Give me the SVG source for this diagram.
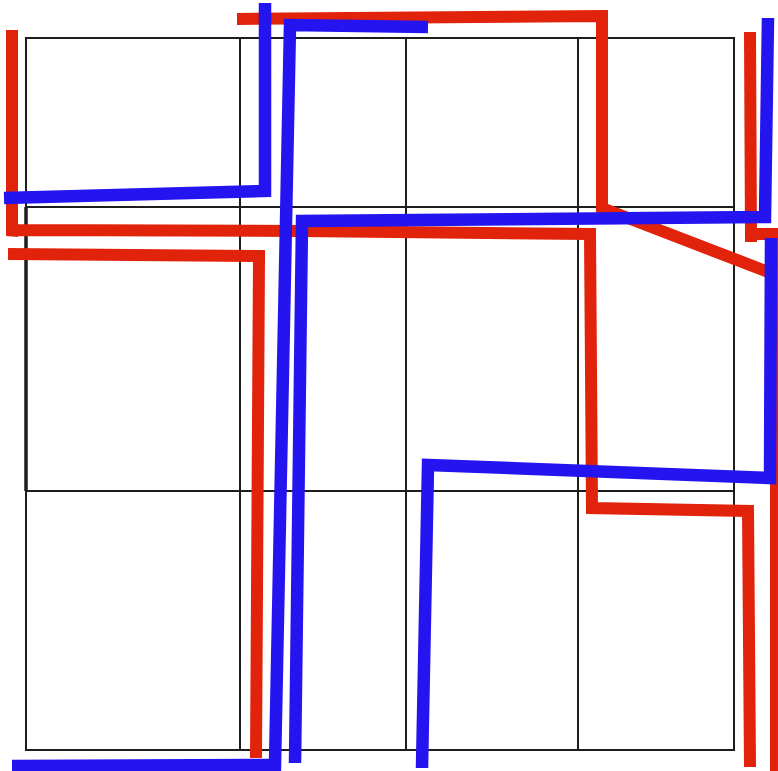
<svg xmlns="http://www.w3.org/2000/svg" width="778" height="771" viewBox="0 0 778 771">
<style>
.grid{fill:none;stroke:#1e1e1e;stroke-width:2}
.r{fill:none;stroke:#e2230b;stroke-width:12;stroke-linejoin:miter;stroke-linecap:butt}
.b{fill:none;stroke:#2414ef;stroke-width:12.5;stroke-linejoin:miter;stroke-linecap:butt}
</style>
<rect width="778" height="771" fill="#ffffff"/>
<g id="grid">
<rect class="grid" x="26" y="38" width="708" height="712"/>
<line class="grid" x1="26" y1="207" x2="734" y2="207"/>
<line class="grid" x1="26" y1="491" x2="734" y2="491"/>
<line class="grid" x1="240" y1="38" x2="240" y2="750"/>
<line class="grid" x1="406" y1="38" x2="406" y2="750"/>
<line class="grid" x1="578" y1="38" x2="578" y2="750"/>
<line x1="26" y1="207" x2="26" y2="491" stroke="#1e1e1e" stroke-width="3.5"/>
</g>
<g id="red-paths">
<polyline id="r1" class="r" points="12,30 12,236 13,230 300,231 590,234 592,508 748,511 750,767"/>
<polyline id="r2" class="r" points="8,254 259,256 256,758"/>
<polyline id="r3" class="r" points="237,19 602,16 602,208 776,275"/>
<polyline id="r4" class="r" points="750,32 751,242"/>
<polyline id="r5" class="r" points="752,234 776,234 776,771"/>
</g>
<g id="blue-paths">
<polyline id="b1" class="b" points="265,3 265,191 4,198"/>
<polyline id="b2" class="b" points="428,27 290,25 275,765 12,766"/>
<polyline id="b3" class="b" points="295,763 302,221 765,217 768,18"/>
<polyline id="b4" class="b" points="422,768 428,465 770,478 771,238"/>
</g>
</svg>
